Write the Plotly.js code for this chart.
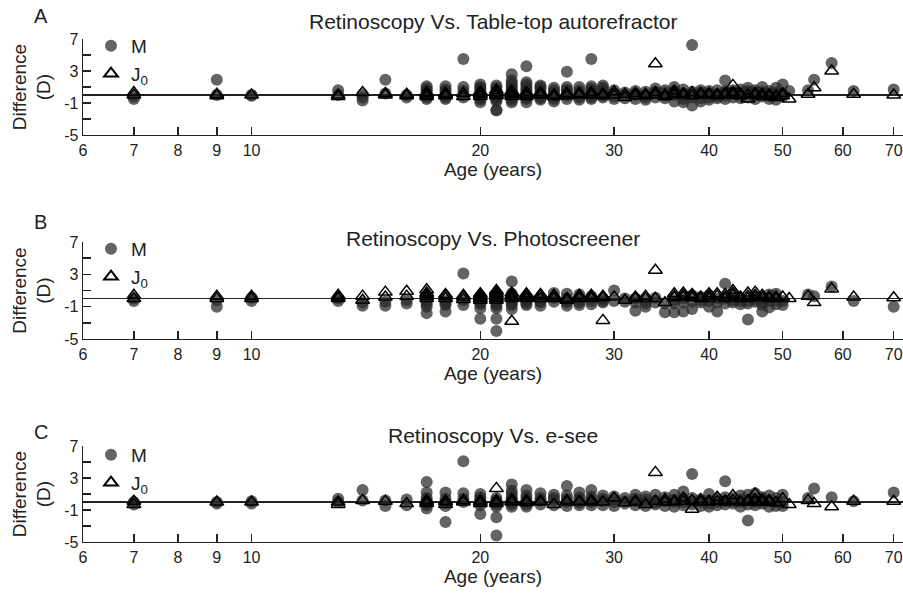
<!DOCTYPE html>
<html>
<head>
<meta charset="utf-8">
<script src="https://cdn.plot.ly/plotly-3.0.1.min.js"></script>
<style>html,body{margin:0;padding:0;background:#fff;}#chart{width:903px;height:594px;}</style>
</head>
<body>
<div id="chart"></div>
<script>
// Ages (years) shared by all panels
const ages = [7,9,10,13,14,15,16,17,18,19,20,21,22,23,24,25,26,27,28,29,30,31,32,33,34,35,36,37,38,39,40,41,42,43,44,45,46,47,48,49,50,51,54,55,58,62,70];

// Panel A: Retinoscopy vs Table-top autorefractor (difference, D)
const mA = [[-0.5,-0.2],[1.9,0.0],[0.0,-0.1],[0.6,0.0],[-0.3,-0.7,0.1],[1.9,0.2],[0.0,-0.3],
  [1.1,0.8,0.6,0.3,0.0,-0.3,-0.5],[1.1,0.7,0.4,0.0,-0.3,-0.5],[4.5,1.0,0.5,0.0,-0.3],
  [1.3,1.0,0.8,0.5,0.3,0.0,-0.2,-0.4,-0.6,-0.9],[1.2,0.9,0.6,0.3,0.1,-0.2,-0.4,-0.6,-0.8,-1.9,-1.9],
  [2.6,1.8,1.5,1.2,1.0,0.7,0.5,0.2,0.0,-0.2,-0.4,-0.7,-0.9],[3.6,1.6,1.3,1.0,0.7,0.5,0.2,0.0,-0.3,-0.5,-0.9],
  [1.2,1.0,0.8,0.4,0.1,-0.2,-0.4,-0.6],[0.9,0.6,0.3,0.0,-0.2,-0.5,-0.8],[2.9,1.0,0.7,0.5,0.2,-0.1,-0.5],
  [1.0,0.6,0.3,0.0,-0.3,-0.6],[4.5,1.1,0.8,0.6,0.3,0.0,-0.3,-0.5],[1.2,0.9,0.7,0.4,0.2,-0.1,-0.3],
  [0.6,0.2,-0.2,-0.5],[0.3,0.0,-0.4],[0.5,0.2,0.0,-0.5],[0.4,0.0,-0.3,-0.6],[0.8,0.4,0.2,-0.3],[0.6,0.3,-0.1,-0.4],
  [1.0,0.5,0.2,0.0,-0.8],[0.7,0.2,-0.2,-0.5,-0.9],[6.25,0.4,0.0,-0.3,-1.3],[0.6,0.3,0.0,-0.4,-0.8],[0.5,0.2,0.0,-0.3,-0.6],
  [0.6,0.1,-0.2,-0.4],[1.8,0.5,0.3,-0.1,-0.5],[0.6,0.3,0.1,-0.3],[0.7,0.3,0.0,-0.4],[0.9,0.5,0.3,-0.3],[0.6,0.3,0.0,-0.5],
  [1.0,0.4,0.1,-0.2],[0.5,0.2,-0.1,-0.5],[0.9,0.3,0.0,-0.6],[1.3,0.2,-0.2],[0.5],[0.6],[1.9],[4.0],[0.5],[0.7]];
const j0A = [[0.3,0.0],[0.1,-0.1],[0.0],[0.0,-0.2],[0.3],[0.2,0.0],[0.1,-0.1],
  [0.3,0.2,0.0,-0.2],[0.2,0.1,-0.1],[0.2,-0.2],
  [0.4,0.2,0.1,0.0,-0.2],[0.6,0.3,0.2,0.0,-0.1],[0.5,0.3,0.2,0.1,0.0,-0.2],[0.3,0.1,0.0,-0.2],[0.3,0.1,0.0],[0.0,-0.2],
  [0.2,0.0,-0.1],[0.2,0.1,0.0],[0.3,0.1,0.0],[0.1,0.0,-0.1],
  [0.4,0.0],[-0.3,0.1],[0.2,-0.1],[0.1,-0.1],[3.9,0.3,0.0],[0.0,-0.2],[0.5,0.2,0.0],[0.2,0.0],[0.3,-0.1],[0.2,0.0],[0.2,0.0],
  [0.1,-0.1],[0.2,0.0],[1.2,0.3,0.0],[0.1,-0.1],[-0.5,0.0],[0.2,0.0],[-0.2,0.1],[0.0,-0.2],[-0.1,-0.3],[0.2,-0.1],
  [-0.5],[0.1],[0.9],[3.0],[0.1],[0.0]];

// Panel B: Retinoscopy vs Photoscreener
const mB = [[-0.3,0.0],[-1.0,-0.2],[-0.3,0.1],[0.0,-0.3],[-0.5,-0.9],[-0.4,-0.9],[-0.2,-0.6],
  [0.2,-0.2,-0.4,-0.7,-1.0,-1.8],[-0.3,-0.6,-0.8,-1.6],[3.1,-0.2,-0.8],
  [0.3,0.0,-0.3,-0.5,-0.7,-1.2,-2.5],[0.5,0.2,-0.1,-0.4,-0.6,-0.9,-1.2,-2.5,-4.0],[2.1,0.6,0.3,0.1,-0.3,-0.6,-0.8,-1.3],
  [0.2,-0.1,-0.3,-0.6,-0.8],[0.0,-0.3,-0.5,-0.9],[0.7,0.1,-0.4],[0.6,0.0,-0.3,-0.5,-0.9],
  [0.5,-0.2,-0.5,-0.8],[0.3,-0.3,-0.7],[0.0,-0.3,-0.5],[1.0,-0.3],[0.0,-0.4],[0.0,-0.5,-1.5],[-0.2,-0.6,-1.0],[0.1,-0.5],[-0.6,-1.7],
  [-0.2,-0.6,-1.7],[0.0,-0.5,-1.6],[0.4,-0.4,-1.3],[0.2,-0.2,-0.5],[0.4,-0.3,-1.0],[0.0,-0.5,-1.6],[1.85,0.0,-0.6],[0.2,-0.2,-0.5],
  [0.0,-0.3,-0.7],[-0.3,-0.6,-2.6],[0.3,-0.1,-0.4],[0.0,-0.4,-0.8,-1.6],[0.5,-0.3,-1.1],[0.6,-0.2,-0.7],[-0.3,-0.8],[],
  [0.5],[0.3],[1.5],[-0.3],[-1.0]];
const j0B = [[0.4,0.0],[0.3,0.0],[0.3,0.0],[0.4,0.2,0.0],[0.3,-0.2],[0.8,0.2],[0.9,0.3],
  [1.1,0.7,0.5,0.3,0.0],[0.5,0.3,0.0],[0.4,0.2,-0.1],
  [0.6,0.4,0.2,0.0,-0.2],[1.0,0.8,0.6,0.4,0.2,0.0,-0.2],[0.7,0.4,0.2,0.0,-2.8],[0.6,0.4,0.2,0.0],[0.5,0.3,0.0],[0.4,0.2,0.0],
  [0.0,-0.2],[0.4,0.2,0.0],[0.4,0.2,0.0],[0.3,0.1,-2.7],
  [0.2],[-0.2],[0.2,0.0],[0.3,0.0],[3.5,0.0],[-0.5],[0.6,0.3,0.1],[0.7,0.4,0.2],[0.5,0.3,0.1],[0.2,0.0],[0.6,0.3,0.0],[0.6,0.3],
  [0.5,0.2,0.0],[1.0,0.7,0.4],[0.2,0.0],[0.7,0.3,0.0],[0.8,0.4,0.2],[0.4,0.1],[0.2,0.0],[0.2,0.0],[0.2],[0.0],[0.3],[-0.5],[1.2],[0.2],[0.1]];

// Panel C: Retinoscopy vs e-see
const mC = [[0.0,-0.3],[0.0,-0.2],[0.1,-0.2],[0.4,0.0],[1.5,0.2],[0.2,-0.5],[0.3,-0.4],
  [2.5,1.2,0.5,0.2,-0.1,-0.4,-0.8],[1.2,0.4,0.0,-0.5,-2.5],[5.1,1.1,0.4,0.0],
  [1.0,0.6,0.3,0.0,-0.4,-1.5],[0.5,0.2,-0.3,-0.6,-1.9,-4.2],[2.2,1.4,1.0,0.6,0.3,0.0,-0.3,-0.6],[1.5,0.8,0.4,0.0,-0.3,-0.6],
  [1.1,0.5,0.2,-0.3],[0.9,0.5,0.2,-0.4],[2.0,0.8,0.4,0.0,-0.5],[1.2,0.6,0.3,-0.1,-0.4],
  [1.5,0.7,0.3,0.0,-0.4],[0.8,0.4,0.1,-0.4],[0.7,0.3,0.0,-0.5],[0.5,0.1,-0.2],[0.9,0.4,0.1,-0.4],[0.7,0.3,0.0,-0.5],[0.9,0.2,-0.1,-0.3],
  [0.6,0.1,-0.5],[0.9,0.3,0.0,-0.6],[1.3,0.4,0.0,-0.4],[3.5,0.5,0.1,-0.3],[0.3,0.0,-0.5],[1.0,0.2,-0.2,-0.6],[0.4,0.0,-0.4],
  [2.6,0.6,0.1,-0.3],[0.5,0.1,-0.2],[0.8,0.3,0.0,-0.6],[0.9,0.2,-0.3,-2.3],[1.1,0.3,0.0,-0.4],[0.6,0.1,-0.2],[0.8,0.1,-0.6],
  [0.5,0.0,-0.5],[0.9,0.0,-0.5],[],[0.5],[1.7],[0.6],[0.1],[1.2]];
const j0C = [[0.1,-0.3],[0.0],[0.0],[0.0,-0.3],[0.2],[0.1],[-0.2],
  [0.2,0.0,-0.2],[0.1,0.0,-0.3],[0.2,0.0],
  [0.2,0.0,-0.2],[1.7,0.2,0.0,-0.2],[0.3,0.1,0.0],[0.2,0.0,-0.1],[0.1,0.0],[-0.3],[0.2,0.0],[0.1,0.0],[0.2,0.0],[0.0],
  [0.5],[-0.1],[0.1,0.0],[-0.3],[3.7,0.1],[0.3,0.0],[0.1,0.0],[0.5,0.1],[-0.9,0.2],[0.3,0.0],[0.1,0.0],[0.6,0.1],[0.2,0.0],
  [0.8,0.2],[0.0],[0.2,0.0],[1.0,0.3,0.0],[0.3,0.0],[0.2,0.0],[-0.1],[0.4],[-0.3],[0.2],[-0.2],[-0.6],[0.1],[0.1]];

const panelTitles = ['Retinoscopy Vs. Table-top autorefractor','Retinoscopy Vs. Photoscreener','Retinoscopy Vs. e-see'];
const panelLetters = ['A','B','C'];
const xTicks = [6,7,8,9,10,20,30,40,50,60,70];
const yTicks = [-5,-1,3,7];
const yMinorTicks = [-3,1,5];

function flatten(vals){
  const xs=[], ys=[];
  ages.forEach((a,i)=>vals[i].forEach(v=>{xs.push(a); ys.push(v);}));
  return {xs, ys};
}

const FONT = 'Liberation Sans, Arial, sans-serif';
const series = [[mA,j0A],[mB,j0B],[mC,j0C]];
const traces = [];
series.forEach((pair,p)=>{
  const ax = p===0 ? '' : String(p+1);
  const lg = p===0 ? 'legend' : 'legend'+(p+1);
  const m = flatten(pair[0]);
  const j = flatten(pair[1]);
  traces.push({type:'scatter', mode:'markers', x:m.xs, y:m.ys, xaxis:'x'+ax, yaxis:'y'+ax, name:'M', legend:lg,
    marker:{symbol:'circle', size:12, color:'rgba(40,40,40,0.72)', line:{width:0}}, cliponaxis:false});
  traces.push({type:'scatter', mode:'markers', x:j.xs, y:j.ys, xaxis:'x'+ax, yaxis:'y'+ax, name:'J<sub>0</sub>', legend:lg,
    marker:{symbol:'triangle-up-open', size:12, color:'#000', line:{width:1.5, color:'#000'}}, cliponaxis:false});
});

// Geometry in pixels -> paper coords (plot area: x 83..903, y 39..542)
const L=83, R=903, T=39, B=542;
const px = x => (x-L)/(R-L);
const py = y => (B-y)/(B-T);
const domains = [[py(135),py(39)],[py(339),py(242)],[py(542),py(446)]];
const titleY = [22,238,435];
const letterY = [16,222,432];
const legendTop = [27,230,436];

const layout = {
  width:903, height:594,
  margin:{l:L, r:0, t:T, b:594-B},
  paper_bgcolor:'#fff', plot_bgcolor:'#fff',
  font:{family:FONT, color:'#222', size:16},
  showlegend:true,
  annotations:[]
};
for(let p=0;p<3;p++){
  const ax = p===0 ? '' : String(p+1);
  layout['xaxis'+ax] = {
    type:'log', range:[Math.log10(6), Math.log10(72)], domain:[0,1], anchor:'y'+ax,
    tickvals:xTicks, ticktext:xTicks.map(String), ticks:'inside', ticklen:8, tickwidth:1.4, tickcolor:'#222',
    showline:true, linecolor:'#222', linewidth:1.4, showgrid:false, zeroline:false,
    tickfont:{size:16, family:FONT, color:'#222'},
    title:{text:'Age (years)', font:{size:19, family:FONT, color:'#222'}, standoff:2},
    fixedrange:true
  };
  layout['yaxis'+ax] = {
    range:[-5,7], domain:domains[p], anchor:'x'+ax,
    tickvals:yTicks, ticktext:yTicks.map(String), ticks:'inside', ticklen:8, tickwidth:1.4, tickcolor:'#222',
    minor:{tickvals:yMinorTicks, ticks:'inside', ticklen:8, tickwidth:1.4, tickcolor:'#222', showgrid:false},
    showline:true, linecolor:'#222', linewidth:1.4, showgrid:false,
    zeroline:true, zerolinecolor:'#222', zerolinewidth:1.4,
    tickfont:{size:16, family:FONT, color:'#222'},
    title:{text:'Difference<br>(D)', font:{size:19, family:FONT, color:'#222'}, standoff:8},
    fixedrange:true
  };
  const lg = p===0 ? 'legend' : 'legend'+(p+1);
  layout[lg] = {x:px(91), xanchor:'left', y:py(legendTop[p]), yanchor:'top', bgcolor:'rgba(0,0,0,0)',
    font:{size:19, family:FONT, color:'#222'}, tracegroupgap:0, itemsizing:'constant', itemwidth:30};
  layout.annotations.push({xref:'paper', yref:'paper', x:0.5, y:py(titleY[p]), xanchor:'center', yanchor:'middle',
    text:panelTitles[p], showarrow:false, font:{size:21, family:FONT, color:'#222'}});
  layout.annotations.push({xref:'paper', yref:'paper', x:px(32), y:py(letterY[p]), xanchor:'left', yanchor:'middle',
    text:panelLetters[p], showarrow:false, font:{size:20, family:FONT, color:'#222'}});
}

Plotly.newPlot('chart', traces, layout, {displayModeBar:false, staticPlot:true});
</script>
</body>
</html>
